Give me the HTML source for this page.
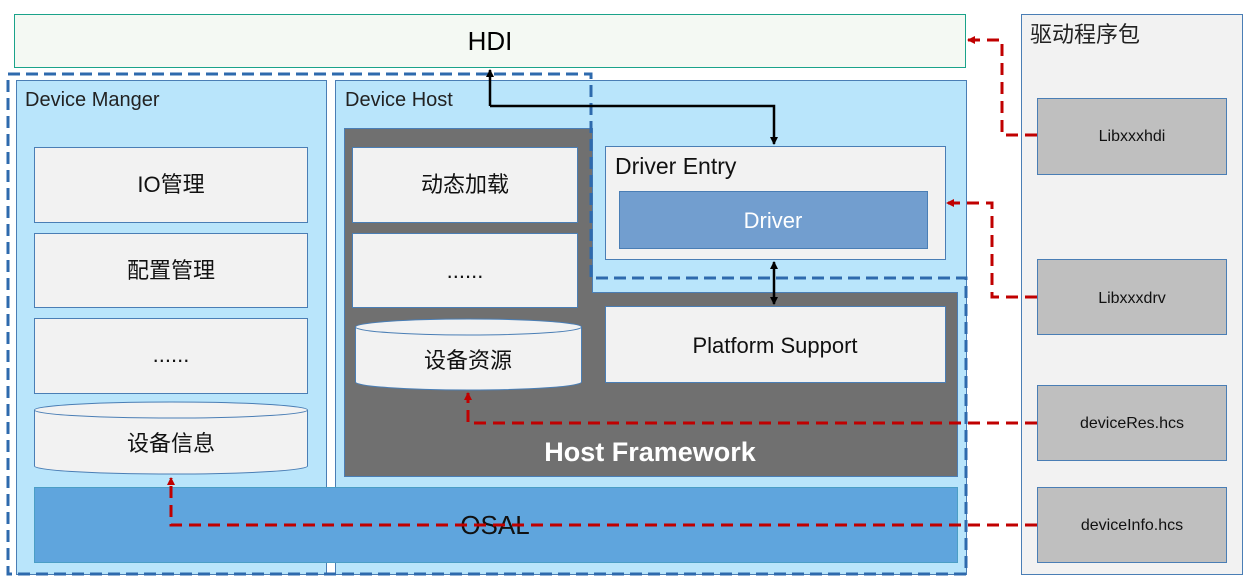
<!DOCTYPE html>
<html><head><meta charset="utf-8"><style>
html,body{margin:0;padding:0;background:#fff;}
svg{display:block;font-family:"Liberation Sans","Noto Sans CJK SC",sans-serif;}
</style></head><body>
<svg width="1252" height="586" viewBox="0 0 1252 586" xmlns="http://www.w3.org/2000/svg">
<defs>
<marker id="ab" markerWidth="8" markerHeight="8" refX="7" refY="4" orient="auto" markerUnits="userSpaceOnUse"><path d="M0,0 L8,4 L0,8 z" fill="#000"/></marker>
<marker id="ar" markerWidth="8" markerHeight="8" refX="7" refY="4" orient="auto" markerUnits="userSpaceOnUse"><path d="M0,0 L8,4 L0,8 z" fill="#c00000"/></marker>
</defs>
<!-- HDI -->
<rect x="14.5" y="14.5" width="951" height="53" fill="#f4f9f3" stroke="#1aa38a"/>
<text x="490" y="50" font-size="26" text-anchor="middle" fill="#000">HDI</text>
<!-- right panel -->
<rect x="1021.5" y="14.5" width="221" height="560" fill="#f2f2f2" stroke="#4a7eb5"/>
<text x="1030" y="42" font-size="22" fill="#222">驱动程序包</text>
<g fill="#bfbfbf" stroke="#4a7eb5">
<rect x="1037.5" y="98.5" width="189" height="76"/>
<rect x="1037.5" y="259.5" width="189" height="75"/>
<rect x="1037.5" y="385.5" width="189" height="75"/>
<rect x="1037.5" y="487.5" width="189" height="75"/>
</g>
<g font-size="16" text-anchor="middle" fill="#111">
<text x="1132" y="141">Libxxxhdi</text>
<text x="1132" y="303">Libxxxdrv</text>
<text x="1132" y="428">deviceRes.hcs</text>
<text x="1132" y="530">deviceInfo.hcs</text>
</g>
<!-- Device Manger -->
<rect x="16.5" y="80.5" width="310" height="494" fill="#b9e5fb" stroke="#4a7eb5"/>
<text x="25" y="106" font-size="20" fill="#222">Device Manger</text>
<!-- Device Host -->
<rect x="335.5" y="80.5" width="631" height="494" fill="#b9e5fb" stroke="#4a7eb5"/>
<text x="345" y="106" font-size="20" fill="#222">Device Host</text>
<!-- Host framework -->
<path d="M344.5,128.5 H592.5 V292.5 H957.5 V476.5 H344.5 Z" fill="#707070" stroke="#4a7eb5"/>
<text x="650" y="461" font-size="27" font-weight="bold" text-anchor="middle" fill="#fff">Host Framework</text>
<g fill="#f2f2f2" stroke="#4a7eb5">
<rect x="34.5" y="147.5" width="273" height="75"/>
<rect x="34.5" y="233.5" width="273" height="74"/>
<rect x="34.5" y="318.5" width="273" height="75"/>
<rect x="352.5" y="147.5" width="225" height="75"/>
<rect x="352.5" y="233.5" width="225" height="74"/>
<rect x="605.5" y="146.5" width="340" height="113"/>
<rect x="605.5" y="306.5" width="340" height="76"/>
</g>
<!-- cylinders -->
<g fill="#f2f2f2" stroke="#4a7eb5">
<path d="M34.5,410 V466 A136.5,8 0 0 0 307.5,466 V410"/>
<ellipse cx="171" cy="410" rx="136.5" ry="8"/>
<path d="M355.5,327 V382 A113,8 0 0 0 581.5,382 V327"/>
<ellipse cx="468.5" cy="327" rx="113" ry="8"/>
</g>
<g font-size="22" text-anchor="middle" fill="#111">
<text x="171" y="192">IO管理</text>
<text x="171" y="278">配置管理</text>
<text x="171" y="362">......</text>
<text x="171" y="451">设备信息</text>
<text x="465" y="192">动态加载</text>
<text x="465" y="278">......</text>
<text x="468" y="368">设备资源</text>
<text x="775" y="353">Platform Support</text>
</g>
<text x="615" y="174" font-size="23" fill="#111">Driver Entry</text>
<rect x="619.5" y="191.5" width="308" height="57" fill="#729ecf" stroke="#4a7eb5"/>
<text x="773" y="228" font-size="22" text-anchor="middle" fill="#fff">Driver</text>
<!-- OSAL -->
<rect x="34.5" y="487.5" width="923" height="75" fill="#5fa5dd" stroke="#4a9ec6"/>
<text x="495" y="534" font-size="26" text-anchor="middle" fill="#111">OSAL</text>
<!-- dashed outline -->
<path d="M8,74 H591 V278 H966 V574 H8 Z" fill="none" stroke="#2e6aad" stroke-width="3" stroke-dasharray="12,6"/>
<!-- black arrows -->
<path d="M490,106 V70" stroke="#000" stroke-width="2.5" fill="none" marker-end="url(#ab)"/>
<path d="M490,106 H774 V144" stroke="#000" stroke-width="2.5" fill="none" marker-end="url(#ab)"/>
<path d="M774,283 V262" stroke="#000" stroke-width="2.5" fill="none" marker-end="url(#ab)"/>
<path d="M774,283 V304" stroke="#000" stroke-width="2.5" fill="none" marker-end="url(#ab)"/>
<!-- red dashed -->
<g stroke="#c00000" stroke-width="3" fill="none" stroke-dasharray="12,7">
<path d="M1037,135 H1002 V40 H968" marker-end="url(#ar)"/>
<path d="M1037,297 H992 V203 H947" marker-end="url(#ar)"/>
<path d="M1037,423 H468 V393" marker-end="url(#ar)"/>
<path d="M1037,525 H171 V478" marker-end="url(#ar)"/>
</g>
</svg>
</body></html>
